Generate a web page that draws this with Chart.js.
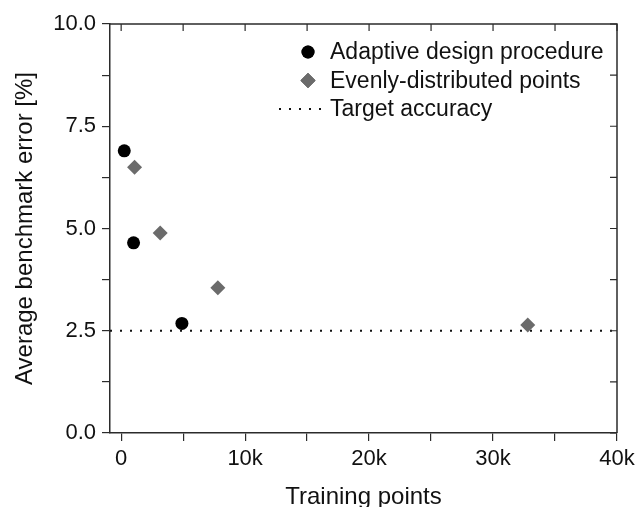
<!DOCTYPE html>
<html>
<head>
<meta charset="utf-8">
<script src="https://cdn.jsdelivr.net/npm/chart.js@4/dist/chart.umd.min.js"></script>
<style>
  html, body { margin: 0; padding: 0; background: #fff; }
  #wrap { width: 637px; height: 507px; }
</style>
</head>
<body>
<div id="wrap"><canvas id="grafico"></canvas></div>
<script>
// datos
const adaptiveX = [250, 1000, 4900];
const adaptiveY = [6.9, 4.65, 2.68];
const evenlyX = [1080, 3150, 7800, 32800];
const evenlyY = [6.5, 4.89, 3.55, 2.64];
const targetX = [-900, 40000];
const targetY = [2.5, 2.5];

const xTicks = [0, 5000, 10000, 15000, 20000, 25000, 30000, 35000, 40000];
const xLabels = ["0", "", "10k", "", "20k", "", "30k", "", "40k"];
const yTicks = [0, 1.25, 2.5, 3.75, 5, 6.25, 7.5, 8.75, 10];
const yLabels = ["0.0", "", "2.5", "", "5.0", "", "7.5", "", "10.0"];

const seriesNames = ["Adaptive design procedure", "Evenly-distributed points", "Target accuracy"];

const toPoints = (xs, ys) => xs.map((x, i) => ({ x, y: ys[i] }));
const colorEje = "#2b2b2b";
const fuente = "'Liberation Sans', Arial, sans-serif";

// marco superior/derecho con marcas hacia adentro
const marco = {
  id: "marco",
  afterDraw(chart) {
    const { ctx, chartArea: a, scales } = chart;
    ctx.save();
    ctx.strokeStyle = colorEje;
    ctx.lineWidth = 1.5;
    ctx.beginPath();
    ctx.moveTo(a.left, a.top);
    ctx.lineTo(a.right, a.top);
    ctx.lineTo(a.right, a.bottom);
    ctx.stroke();
    ctx.lineWidth = 1.2;
    ctx.beginPath();
    xTicks.forEach(v => {
      const px = scales.x.getPixelForValue(v);
      ctx.moveTo(px, a.top);
      ctx.lineTo(px, a.top + 7);
    });
    yTicks.forEach(v => {
      const py = scales.y.getPixelForValue(v);
      ctx.moveTo(a.right, py);
      ctx.lineTo(a.right - 7, py);
    });
    ctx.stroke();
    ctx.restore();
  }
};

// leyenda dentro del área del gráfico
const leyenda = {
  id: "leyenda",
  afterDraw(chart) {
    const { ctx } = chart;
    const x0 = 308, y0 = 52, paso = 28.5;
    ctx.save();
    ctx.font = "23px " + fuente;
    ctx.fillStyle = "#111";
    ctx.textBaseline = "middle";
    chart.data.datasets.forEach((ds, i) => {
      const y = y0 + i * paso;
      ctx.fillText(ds.label, 330, y + 1);
      if (ds.showLine) {
        ctx.strokeStyle = ds.borderColor;
        ctx.lineWidth = ds.borderWidth;
        ctx.setLineDash(ds.borderDash);
        ctx.beginPath();
        ctx.moveTo(279, y);
        ctx.lineTo(325, y);
        ctx.stroke();
        ctx.setLineDash([]);
      } else {
        Chart.helpers.drawPoint(ctx, {
          pointStyle: ds.pointStyle,
          radius: ds.pointRadius,
          borderWidth: 0
        }, x0, y);
        ctx.fillStyle = ds.backgroundColor;
        ctx.fill();
        ctx.fillStyle = "#111";
      }
    });
    ctx.restore();
  }
};

const ctx = document.getElementById("grafico").getContext("2d");
const grafico = new Chart(ctx, {
  type: "scatter",
  data: {
    datasets: [
      {
        label: seriesNames[0],
        data: toPoints(adaptiveX, adaptiveY),
        pointStyle: "circle",
        pointRadius: 6.5,
        backgroundColor: "#000",
        borderColor: "#000",
        borderWidth: 0,
        showLine: false
      },
      {
        label: seriesNames[1],
        data: toPoints(evenlyX, evenlyY),
        pointStyle: "rectRot",
        pointRadius: 7.5,
        backgroundColor: "#6b6b6b",
        borderColor: "#6b6b6b",
        borderWidth: 0,
        showLine: false
      },
      {
        label: seriesNames[2],
        data: toPoints(targetX, targetY),
        showLine: true,
        pointRadius: 0,
        borderColor: "#111",
        borderWidth: 2,
        borderDash: [2, 8],
        fill: false
      }
    ]
  },
  options: {
    responsive: true,
    maintainAspectRatio: false,
    animation: false,
    layout: { padding: { top: 24, right: 20, left: 0, bottom: 0 } },
    plugins: {
      legend: { display: false },
      tooltip: { enabled: false }
    },
    scales: {
      x: {
        type: "linear",
        min: -900,
        max: 40000,
        afterBuildTicks: s => { s.ticks = xTicks.map(v => ({ value: v })); },
        afterFit: s => { s.height = 74; s.paddingLeft = 0; s.paddingRight = 0; },
        ticks: {
          autoSkip: false,
          maxRotation: 0,
          padding: 5,
          color: "#111",
          font: { family: fuente, size: 22 },
          callback: (v) => xLabels[xTicks.indexOf(v)] ?? ""
        },
        grid: { drawOnChartArea: false, drawTicks: true, tickLength: 8, color: colorEje, lineWidth: 1.2 },
        border: { color: colorEje, width: 1.5 },
        title: {
          display: true,
          text: "Training points",
          color: "#111",
          font: { family: fuente, size: 24, lineHeight: 1 },
          padding: { top: 0, bottom: -2 }
        }
      },
      y: {
        type: "linear",
        min: 0,
        max: 10,
        afterBuildTicks: s => { s.ticks = yTicks.map(v => ({ value: v })); },
        afterFit: s => { s.width = 110; s.paddingTop = 0; s.paddingBottom = 0; },
        ticks: {
          autoSkip: false,
          padding: 6,
          color: "#111",
          font: { family: fuente, size: 22 },
          callback: (v) => yLabels[yTicks.indexOf(v)] ?? ""
        },
        grid: { drawOnChartArea: false, drawTicks: true, tickLength: 8, color: colorEje, lineWidth: 1.2 },
        border: { color: colorEje, width: 1.5 },
        title: {
          display: true,
          text: "Average benchmark error [%]",
          color: "#111",
          font: { family: fuente, size: 24, lineHeight: 1 },
          padding: { top: 13, bottom: 0 }
        }
      }
    }
  },
  plugins: [marco, leyenda]
});
</script>
</body>
</html>
